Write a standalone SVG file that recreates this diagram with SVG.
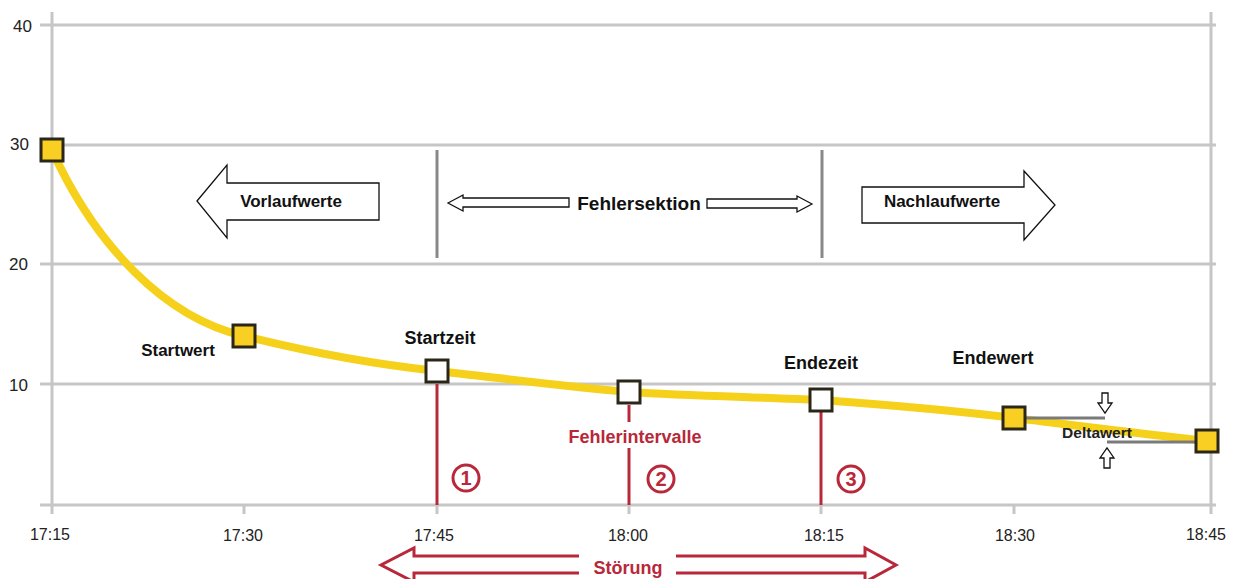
<svg xmlns="http://www.w3.org/2000/svg" width="1235" height="579" viewBox="0 0 1235 579">
<style>
.grid{stroke:#c6c6c6;stroke-width:3;fill:none}
.tick{font-family:"Liberation Sans",Arial,sans-serif;font-size:16px;fill:#222}
.ytick{font-family:"Liberation Sans",Arial,sans-serif;font-size:17px;fill:#222}
.lbl{font-family:"Liberation Sans",Arial,sans-serif;font-size:18px;font-weight:bold;fill:#111}
.cal{font-family:"Liberation Sans",Arial,sans-serif;font-size:17px;font-weight:bold;fill:#111}
.red{stroke:#b8283a;stroke-width:3;fill:none}
.redt{font-family:"Liberation Sans",Arial,sans-serif;font-size:18px;font-weight:bold;fill:#b8283a}
.num{font-family:"Liberation Sans",Arial,sans-serif;font-size:20px;font-weight:bold;fill:#b8283a}
.ym{fill:#f8cf22;stroke:#2a2718;stroke-width:3}
.wm{fill:#ffffff;stroke:#2a2718;stroke-width:3}
.blk{fill:#fff;stroke:#111;stroke-width:1.3}
.sep{stroke:#888;stroke-width:3}
</style>
<rect width="1235" height="579" fill="#fff"/>
<g id="axes">
<line class="grid" x1="40" y1="25" x2="1216" y2="25"/>
<line class="grid" x1="40" y1="145" x2="1216" y2="145"/>
<line class="grid" x1="40" y1="264" x2="1216" y2="264"/>
<line class="grid" x1="40" y1="384" x2="1216" y2="384"/>
<line class="grid" x1="40" y1="505" x2="1216" y2="505"/>
<line class="grid" x1="52" y1="12" x2="52" y2="514"/>
<line class="grid" x1="1211" y1="12" x2="1211" y2="514"/>
<g class="grid">
<line x1="244" y1="505" x2="244" y2="514"/><line x1="437" y1="505" x2="437" y2="514"/><line x1="629" y1="505" x2="629" y2="514"/><line x1="821" y1="505" x2="821" y2="514"/><line x1="1014" y1="505" x2="1014" y2="514"/>
</g>
<text class="ytick" x="32" y="32" text-anchor="end">40</text>
<text class="ytick" x="29" y="150" text-anchor="end">30</text>
<text class="ytick" x="28" y="270" text-anchor="end">20</text>
<text class="ytick" x="28" y="391" text-anchor="end">10</text>
<g text-anchor="middle">
<text class="tick" x="50" y="540">17:15</text>
<text class="tick" x="243" y="541">17:30</text>
<text class="tick" x="434" y="541">17:45</text>
<text class="tick" x="628" y="541">18:00</text>
<text class="tick" x="824" y="541">18:15</text>
<text class="tick" x="1015" y="541">18:30</text>
<text class="tick" x="1206" y="540">18:45</text>
</g>
</g>
<g id="connectors">
<path d="M52,150 C95,245 165,318 244,336 C300,350 370,364 437,371 C500,378 570,387 629,392 C690,396 760,397 821,400 C890,405 950,410 1014,418 C1080,426 1150,435 1207,441" fill="none" stroke="#f6d11c" stroke-width="8" stroke-linecap="round"/>
<line class="sep" x1="437" y1="150" x2="437" y2="258"/>
<line class="sep" x1="822" y1="150" x2="822" y2="258"/>
<line class="red" x1="437" y1="384" x2="437" y2="505"/>
<line class="red" x1="629" y1="405" x2="629" y2="422"/>
<line class="red" x1="629" y1="448" x2="629" y2="505"/>
<line class="red" x1="821" y1="412" x2="821" y2="505"/>
<line x1="1025" y1="418" x2="1105" y2="418" stroke="#7a7a7a" stroke-width="3"/>
<line x1="1107" y1="442" x2="1196" y2="442" stroke="#7a7a7a" stroke-width="3"/>
<path class="blk" d="M1102,393 h6 v10 h4 l-7,10 l-7,-10 h4 z"/>
<path class="blk" d="M1104,468 h6 v-10 h4 l-7,-10 l-7,10 h4 z"/>
</g>
<g id="vorlauf">
<path class="blk" d="M197,201 L227,165 L227,183 L379,183 L379,220 L227,220 L227,238 Z"/>
<text class="cal" x="291" y="207" text-anchor="middle">Vorlaufwerte</text>
</g>
<g id="fehlersektion">
<path class="blk" d="M448,203 L463,195 L463,198 L569,198 L569,207 L463,207 L463,211 Z"/>
<path class="blk" d="M812,204 L797,196 L797,199 L707,199 L707,208 L797,208 L797,212 Z"/>
<text x="639" y="210" text-anchor="middle" font-family="Liberation Sans,Arial,sans-serif" font-size="19" font-weight="bold" fill="#111">Fehlersektion</text>
</g>
<g id="nachlauf">
<path class="blk" d="M862,187 L1024,187 L1024,171 L1055,205 L1024,240 L1024,223 L862,223 Z"/>
<text class="cal" x="942" y="207" text-anchor="middle">Nachlaufwerte</text>
</g>
<g id="m1"><rect class="ym" x="41" y="139" width="22" height="22"/></g>
<g id="startwert"><rect class="ym" x="233" y="325" width="22" height="22"/><text class="cal" x="178" y="356" text-anchor="middle">Startwert</text></g>
<g id="startzeit"><rect class="wm" x="426" y="360" width="22" height="22"/><text class="lbl" x="440" y="344" text-anchor="middle">Startzeit</text></g>
<g id="fehlerintervall"><rect class="wm" x="618" y="381" width="22" height="22"/><text class="redt" x="635" y="443" text-anchor="middle">Fehlerintervalle</text></g>
<g id="endezeit"><rect class="wm" x="810" y="389" width="22" height="22"/><text class="lbl" x="821" y="369" text-anchor="middle">Endezeit</text></g>
<g id="endewert"><rect class="ym" x="1003" y="407" width="22" height="22"/><text class="lbl" x="993" y="364" text-anchor="middle">Endewert</text></g>
<g id="m7"><rect class="ym" x="1196" y="430" width="22" height="22"/></g>
<g id="deltawert"><text x="1097" y="438" text-anchor="middle" font-family="Liberation Sans,Arial,sans-serif" font-size="15.5" font-weight="bold" fill="#222">Deltawert</text></g>
<g id="nums">
<circle class="red" cx="466" cy="478" r="13"/><text class="num" x="466" y="485" text-anchor="middle">1</text>
<circle class="red" cx="661" cy="479" r="13"/><text class="num" x="661" y="486" text-anchor="middle">2</text>
<circle class="red" cx="851" cy="479" r="13"/><text class="num" x="851" y="486" text-anchor="middle">3</text>
</g>
<g id="stoerung">
<path d="M579,556 L414,556 L414,548 L381,565 L414,582 L414,573 L579,573" fill="#fff" stroke="#b8283a" stroke-width="3"/>
<path d="M676,556 L865,556 L865,548 L896,565 L865,582 L865,573 L676,573" fill="#fff" stroke="#b8283a" stroke-width="3"/>
<text class="redt" x="628" y="574" text-anchor="middle">Störung</text>
</g>
</svg>
